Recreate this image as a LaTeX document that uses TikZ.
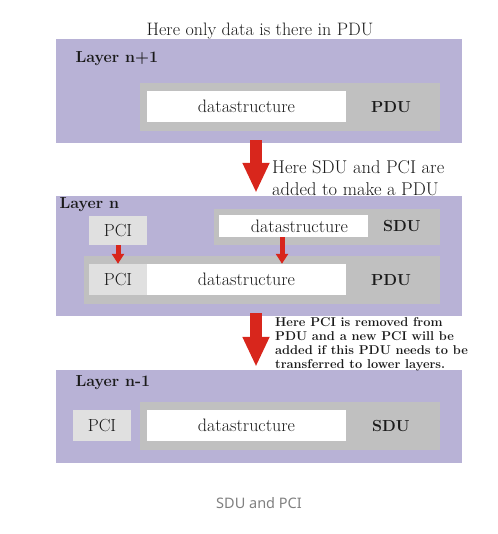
\documentclass[tikz,border=0pt]{standalone}
\usepackage{fontspec}
\newfontfamily\capfont{Noto Sans}
\usepackage{tikz}
\usetikzlibrary{positioning,arrows.meta}
\definecolor{layerbg}{HTML}{B8B2D6}
\definecolor{pdugray}{HTML}{C0C0C0}
\definecolor{pcigray}{HTML}{E0E0E0}
\definecolor{arrowred}{HTML}{D8261C}
\definecolor{inkdark}{HTML}{1A1A1A}
\begin{document}
\begin{tikzpicture}[x=1pt,y=-1pt,
  layer/.style={fill=layerbg,inner sep=0pt},
  pdubox/.style={fill=pdugray,inner sep=0pt},
  pcibox/.style={fill=pcigray,inner sep=0pt,font=\fontsize{17.5}{20}\selectfont,text=inkdark},
  databox/.style={fill=white,inner sep=0pt,font=\fontsize{18}{20}\selectfont,text=inkdark},
  tag/.style={font=\bfseries\fontsize{16}{19}\selectfont,text=inkdark},
  bigarrow/.style={draw=arrowred,line width=12pt,-{Triangle[width=25pt,length=30pt]}},
  smallarrow/.style={draw=arrowred,line width=5pt,-{Triangle[width=12pt,length=10pt]}}]
\useasboundingbox (0,0) rectangle (497,534);
% layer n+1
\node[font=\fontsize{18}{20}\selectfont,text=inkdark] (title) at (260,31) {Here only data is there in PDU};
\node[layer,minimum width=406,minimum height=104] (layerA) at (259,91) {};
\node[tag,anchor=west] (nameA) at (72,59) {Layer n+1};
\node[pdubox,minimum width=300,minimum height=48] (pduA) at (290,107) {};
\node[databox,minimum width=199,minimum height=31] (dataA) at (246.5,106.5) {datastructure};
\node[tag] (tagA) at (391,107) {PDU};
% layer n
\node[layer,minimum width=406,minimum height=120] (layerB) at (259,256) {};
\node[tag,anchor=west] (nameB) at (56,205) {Layer n};
\node[pcibox,minimum width=58,minimum height=29] (pciB) at (118,230.5) {PCI};
\node[pdubox,minimum width=226,minimum height=36] (sduB) at (327,227) {};
\node[databox,minimum width=149,minimum height=22] (sduDataB) at (293.5,226) {\hspace{12pt}datastructure};
\node[tag] (sduTagB) at (402,226) {SDU};
\node[pdubox,minimum width=356,minimum height=48] (pduB) at (262,280) {};
\node[pcibox,minimum width=58,minimum height=31] (pduPciB) at (118,279.5) {PCI};
\node[databox,minimum width=199,minimum height=31] (pduDataB) at (246.5,279.5) {datastructure};
\node[tag] (pduTagB) at (391,280) {PDU};
% layer n-1
\node[layer,minimum width=406,minimum height=93] (layerC) at (259,416.5) {};
\node[tag,anchor=west] (nameC) at (72,383) {Layer n-1};
\node[pcibox,minimum width=58,minimum height=31] (pciC) at (102,425.5) {PCI};
\node[pdubox,minimum width=300,minimum height=48] (sduC) at (290,426) {};
\node[databox,minimum width=199,minimum height=31] (dataC) at (246.5,425.5) {datastructure};
\node[tag] (tagC) at (391,426) {SDU};
% arrows
\draw[bigarrow] ([xshift=-3pt,yshift=3pt]layerA.south) -- ([xshift=-3pt,yshift=3pt]layerB.north);
\draw[bigarrow] ([xshift=-3pt,yshift=3pt]layerB.south) -- ([xshift=-3pt,yshift=3pt]layerC.north);
\draw[smallarrow] (pciB.south) -- (pduPciB.north);
\draw[smallarrow] ([xshift=-11.5pt]sduDataB.south) -- ([xshift=-11.5pt]sduDataB.south |- pduDataB.north);
\node[anchor=west,align=left,inner sep=0pt,text=inkdark,font=\fontsize{18.5}{22}\selectfont] (noteB) at (272,178) {Here SDU and PCI are\\added to make a PDU};
\node[anchor=west,align=left,inner sep=0pt,text=inkdark,font=\bfseries\fontsize{12.8}{14}\selectfont] (noteC) at (275,344) {Here PCI is removed from\\PDU and a new PCI will be\\added if this PDU needs to be\\transferred to lower layers.};
% caption
\node[font=\capfont\fontsize{14.5}{17}\selectfont,text=gray] (caption) at (259,503) {SDU and PCI};
\end{tikzpicture}
\end{document}
